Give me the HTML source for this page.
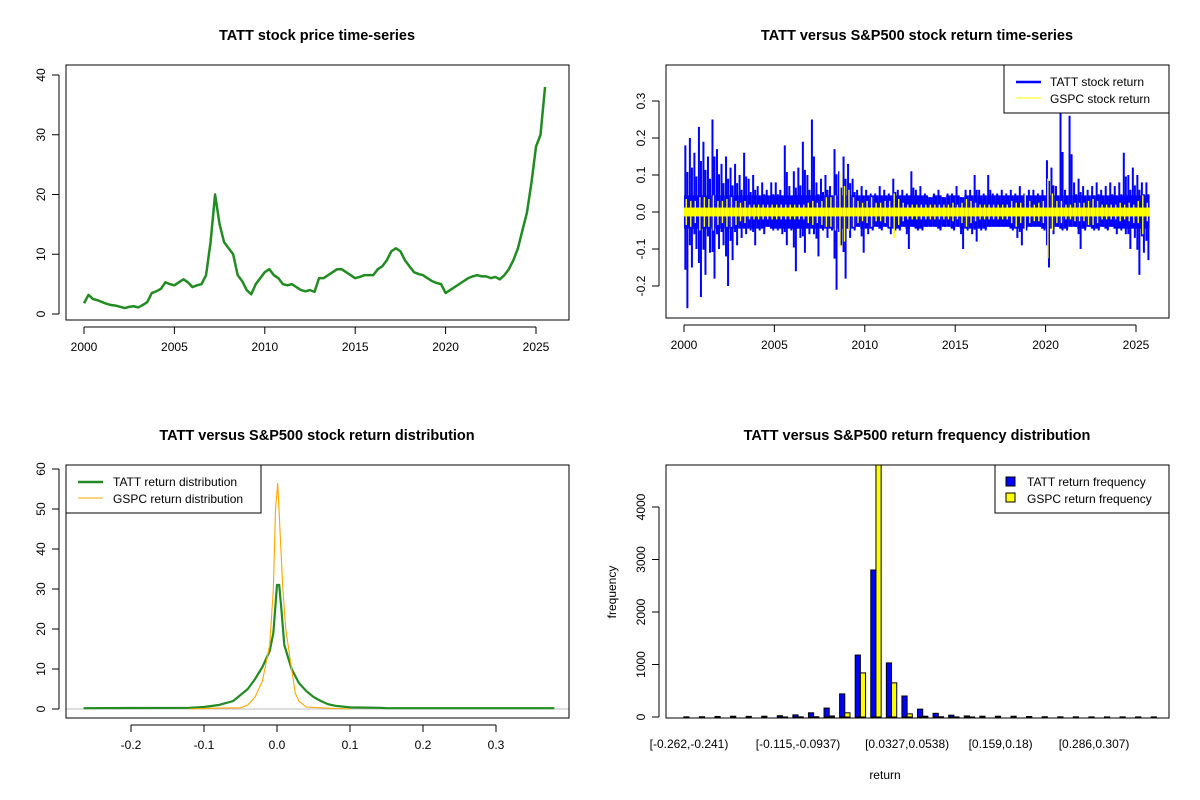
<!DOCTYPE html>
<html><head><meta charset="utf-8"><style>
html,body{margin:0;padding:0;background:#fff;}
svg{display:block;font-family:"Liberation Sans",Arial,sans-serif;}
</style></head><body>
<svg id="chart" width="1200" height="800" viewBox="0 0 1200 800" xmlns="http://www.w3.org/2000/svg">
<rect x="0" y="0" width="1200" height="800" fill="#fff"/>
<g id="p1"></g>
<g id="p2"></g>
<g id="p3"></g>
<g id="p4"></g>
</svg>
<script>
// ---- Panel 1: price (quarterly from 2000) ----
const priceStartYear = 2000;
const priceValues = [1.8,3.2,2.5,2.3, 2.0,1.7,1.5,1.4, 1.2,1.0,1.2,1.3, 1.1,1.5,2.0,3.5, 3.8,4.2,5.3,5.0, 4.8,5.3,5.8,5.3, 4.5,4.8,5.0,6.5, 12,20,15,12, 11,10,6.5,5.5, 4,3.3,5,6, 7,7.5,6.5,6, 5,4.8,5,4.5, 4,3.8,4,3.7, 6,6,6.5,7, 7.5,7.5,7,6.5, 6,6.2,6.5,6.5, 6.5,7.5,8,9, 10.5,11,10.5,9, 8,7,6.7,6.5, 6,5.5,5.2,5, 3.5,4,4.5,5, 5.5,6,6.3,6.5, 6.3,6.3,6.0,6.2, 5.8,6.5,7.5,9, 11,14,17,22, 28,30,38];
const priceYTicks = [0,10,20,30,40];
const yearTicks = [2000,2005,2010,2015,2020,2025];
// ---- Panel 2: returns (quarterly extremes) ----
const tattHigh = [0.18,0.2,0.16,0.23, 0.19,0.15,0.25,0.17, 0.13,0.15,0.12,0.13, 0.1,0.16,0.09,0.1, 0.07,0.08,0.06,0.08, 0.08,0.06,0.18,0.07, 0.11,0.12,0.19,0.1, 0.25,0.08,0.09,0.1, 0.07,0.17,0.11,0.15, 0.13,0.09,0.06,0.07, 0.06,0.05,0.05,0.07, 0.06,0.05,0.09,0.06, 0.06,0.05,0.11,0.06, 0.07,0.05,0.04,0.05, 0.06,0.04,0.05,0.05, 0.07,0.04,0.06,0.06, 0.1,0.06,0.05,0.1, 0.05,0.05,0.06,0.05, 0.06,0.05,0.07,0.05, 0.06,0.06,0.05,0.06, 0.14,0.12,0.07,0.27, 0.06,0.26,0.08,0.09, 0.07,0.06,0.07,0.08, 0.06,0.07,0.08,0.07, 0.08,0.16,0.1,0.12, 0.1,0.08,0.08];
const tattLow = [-0.26,-0.15,-0.1,-0.23, -0.17,-0.11,-0.18,-0.1, -0.09,-0.2,-0.13,-0.09, -0.07,-0.06,-0.05,-0.09, -0.05,-0.06,-0.04,-0.05, -0.05,-0.06,-0.09,-0.05, -0.16,-0.07,-0.11,-0.06, -0.06,-0.12,-0.05,-0.07, -0.05,-0.21,-0.09,-0.18, -0.07,-0.05,-0.04,-0.11, -0.06,-0.05,-0.04,-0.05, -0.04,-0.06,-0.05,-0.05, -0.04,-0.1,-0.04,-0.05, -0.05,-0.04,-0.04,-0.04, -0.05,-0.04,-0.04,-0.05, -0.04,-0.1,-0.05,-0.06, -0.08,-0.05,-0.05,-0.04, -0.04,-0.04,-0.04,-0.04, -0.05,-0.07,-0.09,-0.05, -0.04,-0.04,-0.04,-0.05, -0.15,-0.06,-0.04,-0.05, -0.05,-0.04,-0.04,-0.1, -0.05,-0.04,-0.05,-0.05, -0.04,-0.05,-0.04,-0.06, -0.05,-0.06,-0.1,-0.07, -0.17,-0.11,-0.13];
const gspcHigh = [0.035,0.03,0.03,0.04, 0.04,0.035,0.045,0.03, 0.03,0.035,0.04,0.03, 0.025,0.03,0.02,0.02, 0.02,0.02,0.02,0.02, 0.02,0.02,0.02,0.02, 0.02,0.02,0.02,0.025, 0.03,0.025,0.03,0.04, 0.04,0.045,0.11,0.07, 0.06,0.04,0.03,0.025, 0.03,0.04,0.025,0.025, 0.03,0.03,0.05,0.035, 0.025,0.02,0.02,0.02, 0.02,0.02,0.02,0.02, 0.02,0.02,0.02,0.025, 0.02,0.025,0.035,0.03, 0.025,0.02,0.02,0.02, 0.02,0.02,0.02,0.02, 0.03,0.025,0.025,0.05, 0.03,0.02,0.025,0.03, 0.09,0.05,0.03,0.03, 0.02,0.02,0.025,0.025, 0.025,0.03,0.035,0.03, 0.02,0.02,0.02,0.02, 0.025,0.02,0.025,0.02, 0.03,0.045,0.025];
const gspcLow = [-0.035,-0.04,-0.03,-0.05, -0.04,-0.04,-0.05,-0.035, -0.03,-0.04,-0.04,-0.035, -0.025,-0.03,-0.02,-0.02, -0.02,-0.02,-0.02,-0.02, -0.02,-0.02,-0.02,-0.02, -0.02,-0.02,-0.02,-0.03, -0.035,-0.03,-0.035,-0.04, -0.04,-0.05,-0.095,-0.08, -0.05,-0.04,-0.03,-0.025, -0.03,-0.04,-0.025,-0.025, -0.03,-0.04,-0.07,-0.035, -0.025,-0.02,-0.02,-0.02, -0.02,-0.02,-0.02,-0.02, -0.02,-0.02,-0.02,-0.025, -0.02,-0.03,-0.04,-0.03, -0.025,-0.02,-0.02,-0.02, -0.02,-0.02,-0.02,-0.02, -0.03,-0.04,-0.03,-0.05, -0.03,-0.025,-0.025,-0.03, -0.125,-0.05,-0.03,-0.03, -0.02,-0.02,-0.025,-0.025, -0.025,-0.035,-0.035,-0.03, -0.02,-0.02,-0.02,-0.02, -0.025,-0.02,-0.025,-0.03, -0.03,-0.06,-0.025];
const returnYTicks = [-0.2,-0.1,0.0,0.1,0.2,0.3];
const returnYLabels = ["-0.2","-0.1","0.0","0.1","0.2","0.3"];
// ---- Panel 3: densities ----
const tattDensX = [-0.265,-0.12,-0.1,-0.08,-0.06,-0.05,-0.04,-0.03,-0.02,-0.01,-0.005,0,0.003,0.006,0.01,0.02,0.03,0.04,0.05,0.06,0.07,0.08,0.1,0.14,0.15,0.38];
const tattDensY = [0.2,0.3,0.5,1,2,3.5,5,7.5,10.5,14.5,19,31,31,25,16,10,6.5,4.5,3,2,1.2,0.8,0.4,0.3,0.2,0.2];
const gspcDensX = [-0.12,-0.09,-0.05,-0.04,-0.03,-0.02,-0.01,-0.005,-0.002,0.001,0.004,0.008,0.012,0.02,0.025,0.03,0.04,0.07,0.1];
const gspcDensY = [0,0.2,0.3,1,3,7,16,30,50,56.5,45,30,20,10,4,2,0.5,0.2,0];
const densXTicks = [-0.2,-0.1,0.0,0.1,0.2,0.3];
const densXLabels = ["-0.2","-0.1","0.0","0.1","0.2","0.3"];
const densYTicks = [0,10,20,30,40,50,60];
// ---- Panel 4: histogram ----
const binLabels = ["[-0.262,-0.241)","","","","","","","[-0.115,-0.0937)","","","","","","","[0.0327,0.0538)","","","","","","[0.159,0.18)","","","","","","[0.286,0.307)","","","",""];
const tattFreq = [3,5,10,15,12,15,25,40,80,170,440,1180,2800,1030,400,150,70,35,20,15,15,15,10,5,3,3,2,2,2,2,2];
const gspcFreq = [0,0,0,0,0,0,1,3,5,20,80,840,5200,650,60,15,5,2,1,0,0,0,0,0,0,0,0,0,0,0,0];
const freqYTicks = [0,1000,2000,3000,4000];

const NS="http://www.w3.org/2000/svg";
function mk(parent,tag,attrs){const e=document.createElementNS(NS,tag);for(const k in attrs)e.setAttribute(k,attrs[k]);parent.appendChild(e);return e;}
function txt(parent,x,y,s,opts){const e=mk(parent,'text',Object.assign({x:x,y:y,'font-size':12,'text-anchor':'middle',fill:'#000'},opts||{}));e.textContent=s;return e;}
function lin(a,b,c,d){return v=>c+(v-a)*(d-c)/(b-a);}
function box(g,x0,y0,x1,y1){const r=mk(g,'rect',{x:x0,y:y0,width:x1-x0,height:y1-y0,fill:'none',stroke:'#000','stroke-width':1});}
function xAxis(g,ticks,labels,sx,yb){const a=mk(g,'g',{});
 mk(a,'line',{x1:sx(ticks[0]),x2:sx(ticks[ticks.length-1]),y1:yb+7,y2:yb+7,stroke:'#000'});
 ticks.forEach((t,i)=>{mk(a,'line',{x1:sx(t),x2:sx(t),y1:yb+7,y2:yb+14,stroke:'#000'});const l=txt(a,sx(t),yb+31,labels[i]);});}
function yAxis(g,ticks,labels,sy,xl){const a=mk(g,'g',{});
 mk(a,'line',{x1:xl-7,x2:xl-7,y1:sy(ticks[0]),y2:sy(ticks[ticks.length-1]),stroke:'#000'});
 ticks.forEach((t,i)=>{mk(a,'line',{x1:xl-14,x2:xl-7,y1:sy(t),y2:sy(t),stroke:'#000'});const x=xl-21,y=sy(t);const l=txt(a,x,y,labels[i],{transform:`rotate(-90 ${x} ${y})`});});}
function title(g,x,y,s){const t=txt(g,x,y,s,{'font-size':14.5,'font-weight':'bold'});}

// Panel 1
(function(){const g=document.getElementById('p1');const L=66,R=569,T=65,B=320;
 const sx=lin(2000,2025,84,536), sy=lin(0,40,314,75);
 title(g,317,40,'TATT stock price time-series');
 const pts=priceValues.map((v,i)=>sx(priceStartYear+i*0.25)+','+sy(v)).join(' ');
 const p=mk(g,'polyline',{points:pts,fill:'none',stroke:'#228B22','stroke-width':2.5,'stroke-linejoin':'round'});
 
 box(g,L,T,R,B);xAxis(g,yearTicks,yearTicks.map(String),sx,B);yAxis(g,priceYTicks,priceYTicks.map(String),sy,L);})();

// Panel 2
(function(){const g=document.getElementById('p2');const L=666,R=1169,T=65,B=318;
 const sx=lin(2000,2025,684,1136), sy=lin(0,0.3,212,101);
 title(g,917,40,'TATT versus S&P500 stock return time-series');
 const tg=mk(g,'g',{});
 const n=tattHigh.length;const w=sx(2000.25)-sx(2000);
 for(let i=0;i<n;i++){const x=sx(2000+i*0.25);
  mk(tg,'rect',{x:x,y:sy(Math.min(0.045,tattHigh[i])),width:w,height:sy(Math.max(-0.045,tattLow[i]))-sy(Math.min(0.045,tattHigh[i])),fill:'#0000FF'});
  mk(tg,'line',{x1:x+w*0.3,x2:x+w*0.3,y1:sy(tattHigh[i]),y2:sy(tattLow[i]*0.6),stroke:'#0000FF','stroke-width':2});
  mk(tg,'line',{x1:x+w*0.75,x2:x+w*0.75,y1:sy(tattHigh[i]*0.6),y2:sy(tattLow[i]),stroke:'#0000FF','stroke-width':2});}
 const gg=mk(g,'g',{});
 for(let i=0;i<n;i++){const x=sx(2000+i*0.25);
  mk(gg,'rect',{x:x,y:sy(0.012),width:w,height:sy(-0.012)-sy(0.012),fill:'#FFFF00'});
  mk(gg,'line',{x1:x+w*0.5,x2:x+w*0.5,y1:sy(gspcHigh[i]),y2:sy(gspcLow[i]),stroke:'#FFFF00','stroke-width':1.4});}
 box(g,L,T,R,B);xAxis(g,yearTicks,yearTicks.map(String),sx,B);yAxis(g,returnYTicks,returnYLabels,sy,L);
 const lg=mk(g,'g',{});
 mk(lg,'rect',{x:1004,y:65,width:165,height:48,fill:'#fff',stroke:'#000'});
 mk(lg,'line',{x1:1016,x2:1041,y1:82,y2:82,stroke:'#0000FF','stroke-width':2.5});
 mk(lg,'line',{x1:1016,x2:1041,y1:98,y2:98,stroke:'#FFFF00','stroke-width':1});
 let e=txt(lg,1050,86,'TATT stock return',{'text-anchor':'start'});
 e=txt(lg,1050,103,'GSPC stock return',{'text-anchor':'start'});})();

// Panel 3
(function(){const g=document.getElementById('p3');const L=66,R=569,T=465,B=718;
 const sx=lin(0,0.1,277,350), sy=lin(0,10,709,669);
 title(g,317,440,'TATT versus S&P500 stock return distribution');
 mk(g,'line',{x1:L,x2:R,y1:sy(0),y2:sy(0),stroke:'#bebebe'});
 let p=mk(g,'polyline',{points:tattDensX.map((v,i)=>sx(v)+','+sy(tattDensY[i])).join(' '),fill:'none',stroke:'#228B22','stroke-width':2.2});
 
 p=mk(g,'polyline',{points:gspcDensX.map((v,i)=>sx(v)+','+sy(gspcDensY[i])).join(' '),fill:'none',stroke:'#FFA500','stroke-width':1.1});
 
 box(g,L,T,R,B);xAxis(g,densXTicks,densXLabels,sx,B);yAxis(g,densYTicks,densYTicks.map(String),sy,L);
 const lg=mk(g,'g',{});
 mk(lg,'rect',{x:66,y:465,width:195,height:48,fill:'#fff',stroke:'#000'});
 mk(lg,'line',{x1:78,x2:103,y1:482,y2:482,stroke:'#228B22','stroke-width':2.5});
 mk(lg,'line',{x1:78,x2:103,y1:498,y2:498,stroke:'#FFA500','stroke-width':1});
 let e=txt(lg,113,486,'TATT return distribution',{'text-anchor':'start'});
 e=txt(lg,113,503,'GSPC return distribution',{'text-anchor':'start'});})();

// Panel 4
(function(){const g=document.getElementById('p4');const L=666,R=1169,T=465,B=718;
 const groupW=15.58, unit=groupW/3, c0=689;
 const cx=i=>c0+i*groupW; const sy=lin(0,4000,717,507);
 title(g,917,440,'TATT versus S&P500 return frequency distribution');
 const cl=mk(g,'clipPath',{id:'clip4'});mk(cl,'rect',{x:L,y:T,width:R-L,height:B-T});
 const bg=mk(g,'g',{'clip-path':'url(#clip4)'});
 tattFreq.forEach((v,i)=>{const r=mk(bg,'rect',{x:cx(i)-unit,y:sy(v),width:unit,height:sy(0)-sy(v),fill:'#0000FF',stroke:'#000','stroke-width':1});});
 gspcFreq.forEach((v,i)=>{const r=mk(bg,'rect',{x:cx(i),y:sy(v),width:unit,height:sy(0)-sy(v),fill:'#FFFF00',stroke:'#000','stroke-width':1});});
 box(g,L,T,R,B);
 binLabels.forEach((s,i)=>{if(s){const t=txt(g,cx(i),748,s);}});
 yAxis(g,freqYTicks,freqYTicks.map(String),sy,L);
 let t=txt(g,885,779,'return');
 t=txt(g,616,592,'frequency',{transform:'rotate(-90 616 592)'});
 const lg=mk(g,'g',{});
 mk(lg,'rect',{x:995,y:465,width:174,height:48,fill:'#fff',stroke:'#000'});
 mk(lg,'rect',{x:1006,y:477,width:9,height:9,fill:'#0000FF',stroke:'#000'});
 mk(lg,'rect',{x:1006,y:493,width:9,height:9,fill:'#FFFF00',stroke:'#000'});
 let e=txt(lg,1027,486,'TATT return frequency',{'text-anchor':'start'});
 e=txt(lg,1027,503,'GSPC return frequency',{'text-anchor':'start'});})();
</script>
</body></html>
